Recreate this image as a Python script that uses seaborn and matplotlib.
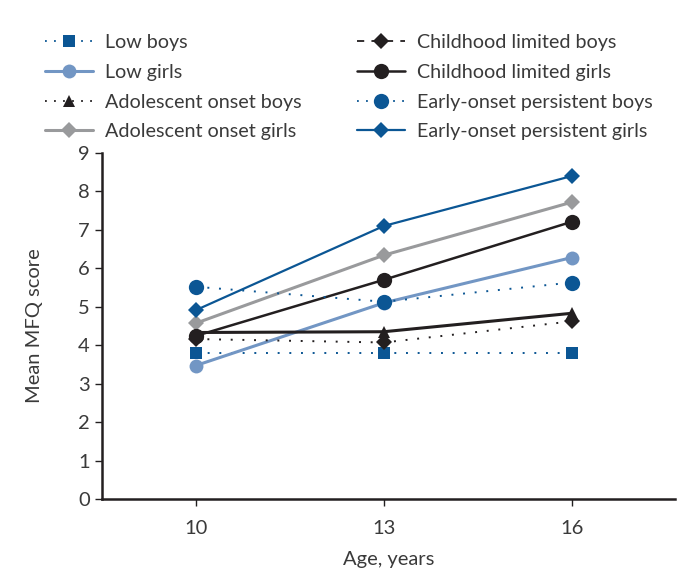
import pandas as pd
import seaborn as sns
import matplotlib.pyplot as plt
from matplotlib.lines import Line2D

sns.set_style("white")
plt.rcParams['font.family'] = ['Lato', 'DejaVu Sans']

ages = [10, 13, 16]
low_boys = [3.79, 3.79, 3.79]
low_girls = [3.47, 5.10, 6.28]
adol_boys = [4.33, 4.35, 4.83]
adol_girls = [4.57, 6.34, 7.72]
child_boys = [4.16, 4.07, 4.62]
child_girls = [4.24, 5.70, 7.21]
eop_boys = [5.52, 5.13, 5.63]
eop_girls = [4.91, 7.10, 8.40]

dark_blue = "#0b5694"
light_blue = "#7296c4"
grey = "#999a9c"
black = "#231f20"
text_col = "#3a3a3a"
dots = (0, (1, 5))

# name, values, colour, marker, size, plot linestyle, plot width, legend linestyle
series = [
    ("Low boys", low_boys, dark_blue, "s", 9, dots, 1.4, (0, (1, 4))),
    ("Low girls", low_girls, light_blue, "o", 10, "-", 2.2, "-"),
    ("Adolescent onset boys", adol_boys, black, "^", 9, "-", 2.2, (0, (1, 4))),
    ("Adolescent onset girls", adol_girls, grey, "D", 8, "-", 2.2, "-"),
    ("Childhood limited boys", child_boys, black, "D", 8, dots, 1.4, (0, (4, 4))),
    ("Childhood limited girls", child_girls, black, "o", 11, "-", 1.8, "-"),
    ("Early-onset persistent boys", eop_boys, dark_blue, "o", 11, dots, 1.4, (0, (1, 4))),
    ("Early-onset persistent girls", eop_girls, dark_blue, "D", 8, "-", 1.6, "-"),
]

fig = plt.figure(figsize=(6.78, 5.86), dpi=100)
ax = fig.add_axes([0.150, 0.1485, 0.846, 0.5905])

handles = []
for name, vals, col, mk, ms, ls, lw, leg_ls in series:
    df = pd.DataFrame({"age": ages, "score": vals})
    sns.lineplot(data=df, x="age", y="score", ax=ax, color=col, marker=mk,
                 markersize=ms, linestyle=ls, linewidth=lw,
                 markeredgewidth=0, legend=False)
    handles.append(Line2D([], [], color=col, marker=mk, markersize=ms,
                          markeredgewidth=0, linestyle=leg_ls,
                          linewidth=lw if leg_ls == "-" else 1.3, label=name))

ax.set_xlim(8.5, 17.65)
ax.set_ylim(0, 9)
ax.set_xticks(ages)
ax.set_yticks(range(10))
ax.tick_params(axis="both", direction="out", length=5, width=1, color=black,
               labelsize=14.5, labelcolor=text_col, bottom=True, left=True)
ax.tick_params(axis="x", pad=10)
for s in ["top", "right"]:
    ax.spines[s].set_visible(False)
for s in ["left", "bottom"]:
    ax.spines[s].set_color(black)
    ax.spines[s].set_linewidth(1.8)
ax.set_xlabel("Age, years", fontsize=14.5, color=text_col, labelpad=10)
ax.set_ylabel("Mean MFQ score", fontsize=14.5, color=text_col, labelpad=25)

fig.legend(handles=handles, ncol=2, loc="upper left",
           bbox_to_anchor=(0.055, 0.955), frameon=False, fontsize=14.2,
           handlelength=2.4, handletextpad=0.65, columnspacing=2.8,
           labelspacing=0.64, labelcolor=text_col, borderaxespad=0)

fig.savefig("out.png", dpi=100)
